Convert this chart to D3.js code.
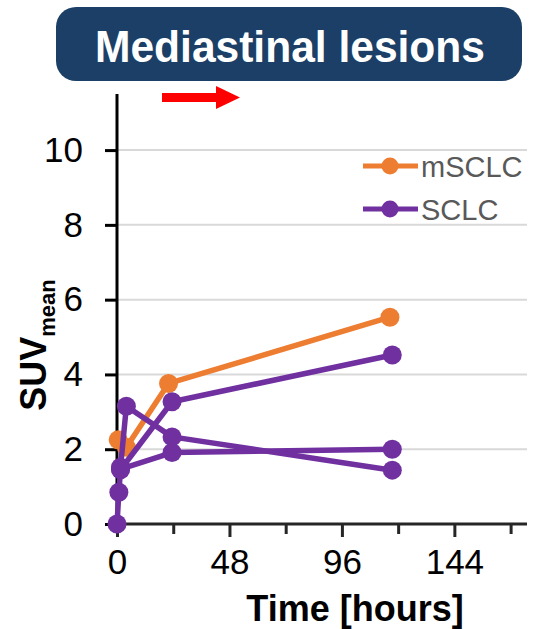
<!DOCTYPE html>
<html>
<head>
<meta charset="utf-8">
<script src="https://cdn.jsdelivr.net/npm/d3@7"></script>
<style>
  html, body { margin: 0; padding: 0; background: #fff; }
  svg { display: block; font-family: "Liberation Sans", Arial, sans-serif; }
</style>
</head>
<body>
<svg id="chart" width="552" height="629"></svg>
<script>
// SUV_mean over time, mediastinal lesions
const titleText = "Mediastinal lesions";
const xTicksMajor = [0, 48, 96, 144];
const xTicksAll = [0, 24, 48, 72, 96, 120, 144, 168];
const yTicks = [0, 2, 4, 6, 8, 10];
const seriesNames = ["mSCLC", "SCLC"];
const seriesColors = ["#ED7D31", "#7030A0"];

// mSCLC lesion
const mSclcTimes = [0.5, 4, 22, 116.5];
const mSclcValues = [2.25, 2.05, 3.76, 5.53];

// SCLC lesions
const sclcTimesA = [0, 0.8, 1.5, 23.5, 117.5];
const sclcValuesA = [0, 0.85, 1.47, 1.91, 2.0];
const sclcTimesB = [1.5, 4, 23.5, 117.5];
const sclcValuesB = [1.52, 3.15, 2.33, 1.44];
const sclcTimesC = [1.5, 23.5, 117.5];
const sclcValuesC = [1.45, 3.27, 4.52];

const lines = [
  { color: seriesColors[0], t: mSclcTimes, v: mSclcValues },
  { color: seriesColors[1], t: sclcTimesA, v: sclcValuesA },
  { color: seriesColors[1], t: sclcTimesB, v: sclcValuesB },
  { color: seriesColors[1], t: sclcTimesC, v: sclcValuesC }
];

const svg = d3.select("#chart");
const x = d3.scaleLinear().domain([0, 175]).range([117, 527]);
const y = d3.scaleLinear().domain([0, 11.5]).range([524, 94]);

// title banner
svg.append("rect")
  .attr("x", 56).attr("y", 7).attr("width", 466).attr("height", 74)
  .attr("rx", 20).attr("fill", "#1B3F66");
svg.append("text")
  .attr("x", 290).attr("y", 62)
  .attr("text-anchor", "middle")
  .attr("font-size", 44).attr("font-weight", "bold")
  .attr("fill", "#fff")
  .attr("textLength", 390).attr("lengthAdjust", "spacingAndGlyphs")
  .text(titleText);

// red arrow
svg.append("path")
  .attr("d", "M162,93 L216,93 L216,86 L240,97.5 L216,109 L216,102 L162,102 Z")
  .attr("fill", "#FF0000");

// gridlines
svg.append("g").selectAll("line")
  .data(yTicks.filter(d => d > 0))
  .join("line")
  .attr("x1", x(0)).attr("x2", 527)
  .attr("y1", d => y(d)).attr("y2", d => y(d))
  .attr("stroke", "#D9D9D9").attr("stroke-width", 2);

// y axis
const yAxis = d3.axisLeft(y).tickValues(yTicks).tickSize(12).tickPadding(22).tickFormat(d3.format("d"));
const gy = svg.append("g").attr("transform", `translate(${x(0)},0)`).call(yAxis);
gy.select(".domain").attr("stroke", "#000").attr("stroke-width", 3).attr("d", `M-0,${y(11.5)}V${y(0)}`);
gy.selectAll(".tick line").attr("stroke", "#000").attr("stroke-width", 3);
gy.selectAll(".tick text").attr("font-size", 35).attr("fill", "#000")
  .attr("font-family", "Liberation Sans, Arial, sans-serif");

// x axis
const xAxis = d3.axisBottom(x).tickValues(xTicksAll).tickSize(11).tickPadding(14)
  .tickFormat(d => xTicksMajor.includes(d) ? d : "");
const gx = svg.append("g").attr("transform", `translate(0,${y(0)})`).call(xAxis);
gx.select(".domain").attr("stroke", "#262626").attr("stroke-width", 3).attr("d", `M${x(0)},0H527`);
gx.selectAll(".tick line").attr("stroke", "#262626").attr("stroke-width", 3)
  .attr("y2", d => xTicksMajor.includes(d) ? 13 : 10);
gx.selectAll(".tick text").attr("font-size", 35).attr("fill", "#000")
  .attr("font-family", "Liberation Sans, Arial, sans-serif");

// axis titles
svg.append("text")
  .attr("x", 355).attr("y", 621)
  .attr("text-anchor", "middle")
  .attr("font-size", 36).attr("font-weight", "bold")
  .text("Time [hours]");
const yTitle = svg.append("text")
  .attr("transform", "translate(46,345) rotate(-90)")
  .attr("text-anchor", "middle")
  .attr("font-weight", "bold");
yTitle.append("tspan").attr("font-size", 36).text("SUV");
yTitle.append("tspan").attr("font-size", 22).attr("dy", 9).text("mean");

// series
const lineGen = d3.line().x(d => x(d[0])).y(d => y(d[1]));
const plot = svg.append("g");
lines.forEach(s => {
  const pts = s.t.map((t, i) => [t, s.v[i]]);
  const g = plot.append("g");
  g.append("path").attr("d", lineGen(pts))
    .attr("fill", "none").attr("stroke", s.color).attr("stroke-width", 5.5)
    .attr("stroke-linejoin", "round");
  g.selectAll("circle").data(pts).join("circle")
    .attr("cx", d => x(d[0])).attr("cy", d => y(d[1])).attr("r", 9.5)
    .attr("fill", s.color);
});

// legend
const legend = svg.append("g");
seriesNames.forEach((name, i) => {
  const ly = 166 + i * 43;
  legend.append("line").attr("x1", 363).attr("x2", 418).attr("y1", ly).attr("y2", ly)
    .attr("stroke", seriesColors[i]).attr("stroke-width", 5);
  legend.append("circle").attr("cx", 390).attr("cy", ly).attr("r", 8.5).attr("fill", seriesColors[i]);
  legend.append("text").attr("x", 421).attr("y", ly + 10.5)
    .attr("font-size", 29).attr("fill", "#595959").text(name);
});
</script>
</body>
</html>
